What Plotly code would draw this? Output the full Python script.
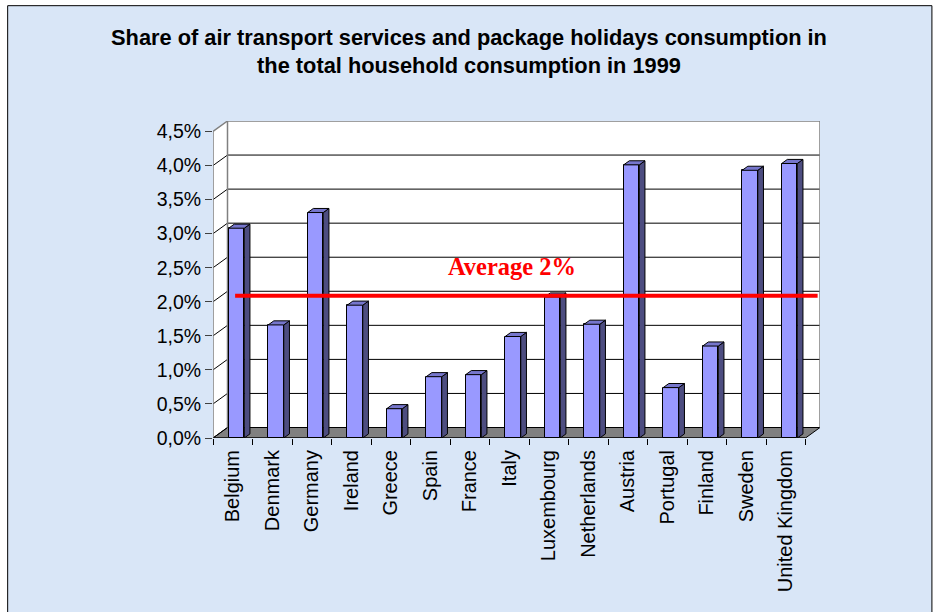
import plotly.graph_objects as go

# ---------------- data ----------------
countries = ["Belgium", "Denmark", "Germany", "Ireland", "Greece", "Spain", "France",
             "Italy", "Luxembourg", "Netherlands", "Austria", "Portugal", "Finland",
             "Sweden", "United Kingdom"]
shares = [3.08, 1.66, 3.31, 1.95, 0.43, 0.90, 0.93, 1.49, 2.07, 1.67, 4.01, 0.74,
          1.35, 3.93, 4.03]
y_ticks = [0.0, 0.5, 1.0, 1.5, 2.0, 2.5, 3.0, 3.5, 4.0, 4.5]
y_tick_labels = ["0,0%", "0,5%", "1,0%", "1,5%", "2,0%", "2,5%", "3,0%", "3,5%", "4,0%", "4,5%"]
average_value = 2.0
average_label = "Average 2%"
title_text = ("Share of air transport services and package holidays consumption in<br>"
              "the total household consumption in 1999")

# ---------------- geometry / style ----------------
W, H = 938, 612
ML, MR, MT, MB = 213, 117.5, 121, 173.5
N = len(countries)
DX = 0.367          # wall depth, category units
DY = 0.154          # wall depth, value units
XMIN = -0.5
XMAX = N - 0.5 + DX
YTOP = y_ticks[-1]
YMAX = YTOP + DY

BOFF = 0.094        # bar front-face shift into depth
BW = 0.395          # bar width
BDX = 0.144         # bar depth (x)
BDY = 0.06          # bar depth (y)

FRONT = "#9999FF"
SIDE = "#4D4D80"
TOP = "#7676CC"
BG = "#D9E6F7"
GREY = "#808080"

FONT = "Liberation Sans, Arial, sans-serif"

dom_w = W - ML - MR
dom_h = H - MT - MB


def px_x(p):
    return (p - ML) / dom_w


def px_y(p):
    return (H - MB - p) / dom_h


shapes = []
# slide background panel with black border
shapes.append(dict(type="rect", xref="paper", yref="paper", layer="below",
                   x0=px_x(7.5), x1=px_x(932.5), y0=px_y(640), y1=px_y(5.5),
                   fillcolor=BG, line=dict(color="black", width=1)))
# side wall
shapes.append(dict(type="path", xref="x", yref="y", layer="below",
                   path=f"M {XMIN},0 L {XMIN+DX},{DY} L {XMIN+DX},{YMAX} L {XMIN},{YTOP} Z",
                   fillcolor="white", line=dict(width=0)))
# back wall
shapes.append(dict(type="rect", xref="x", yref="y", layer="below",
                   x0=XMIN + DX, x1=XMAX, y0=DY, y1=YMAX,
                   fillcolor="white", line=dict(width=0)))
# floor
shapes.append(dict(type="path", xref="x", yref="y", layer="below",
                   path=f"M {XMIN},0 L {N-0.5},0 L {XMAX},{DY} L {XMIN+DX},{DY} Z",
                   fillcolor=GREY, line=dict(color="black", width=1)))
# gridlines (back wall + side wall diagonals)
for v in y_ticks[:-1]:
    shapes.append(dict(type="line", xref="x", yref="y", layer="below",
                       x0=XMIN, y0=v, x1=XMIN + DX, y1=v + DY,
                       line=dict(color="black", width=1)))
    shapes.append(dict(type="line", xref="x", yref="y", layer="below",
                       x0=XMIN + DX, y0=v + DY, x1=XMAX, y1=v + DY,
                       line=dict(color="black", width=1)))
# wall edges (grey)
shapes.append(dict(type="path", xref="x", yref="y", layer="below",
                   path=f"M {XMIN},0 L {XMIN},{YTOP} L {XMIN+DX},{YMAX} L {XMAX},{YMAX} L {XMAX},{DY}",
                   line=dict(color=GREY, width=1.5)))
shapes.append(dict(type="line", xref="x", yref="y", layer="below",
                   x0=XMIN + DX, y0=DY, x1=XMIN + DX, y1=YMAX,
                   line=dict(color=GREY, width=1.5)))
# front floor edge (x axis line)
shapes.append(dict(type="line", xref="x", yref="y", layer="below",
                   x0=XMIN, y0=0, x1=N - 0.5, y1=0,
                   line=dict(color="black", width=1.2)))

# ---------------- traces ----------------
xs = [i + BOFF for i in range(N)]
fig = go.Figure()
fig.add_trace(go.Bar(x=xs, y=shares, width=BW, base=0,
                     marker=dict(color=FRONT, line=dict(color="black", width=1)),
                     hoverinfo="skip", showlegend=False))

side_x, side_y, top_x, top_y = [], [], [], []
for x, v in zip(xs, shares):
    xl, xr = x - BW / 2, x + BW / 2
    side_x += [xr, xr + BDX, xr + BDX, xr, xr, None]
    side_y += [0, BDY, v + BDY, v, 0, None]
    top_x += [xl, xr, xr + BDX, xl + BDX, xl, None]
    top_y += [v, v, v + BDY, v + BDY, v, None]

fig.add_trace(go.Scatter(x=side_x, y=side_y, mode="lines", fill="toself",
                         fillcolor=SIDE, line=dict(color="black", width=1),
                         hoverinfo="skip", showlegend=False))
fig.add_trace(go.Scatter(x=top_x, y=top_y, mode="lines", fill="toself",
                         fillcolor=TOP, line=dict(color="black", width=1),
                         hoverinfo="skip", showlegend=False))

# average line (drawn in front of the bars)
avg_y = average_value + 0.09
fig.add_trace(go.Scatter(x=[XMIN + 0.56, XMAX - 0.06], y=[avg_y, avg_y], mode="lines",
                         line=dict(color="#FF0000", width=4),
                         hoverinfo="skip", showlegend=False))

fig.add_annotation(x=7.08, y=average_value + 0.52, xref="x", yref="y",
                   text=f"<b>{average_label}</b>", showarrow=False,
                   font=dict(family="Liberation Serif, Times New Roman, serif",
                             size=24.5, color="#FF0000"))

# ---------------- layout ----------------
fig.update_layout(
    width=W, height=H, autosize=False,
    margin=dict(l=ML, r=MR, t=MT, b=MB, pad=0),
    paper_bgcolor="white", plot_bgcolor="rgba(0,0,0,0)",
    shapes=shapes, showlegend=False, bargap=0,
    title=dict(text=f"<b>{title_text}</b>", x=0.5, xref="container", xanchor="center",
               y=1 - 45 / H, yref="container", yanchor="middle",
               font=dict(family=FONT, size=21.8, color="black")),
    font=dict(family=FONT, color="black"),
    xaxis=dict(range=[XMIN, XMAX], tickvals=list(range(N)), ticktext=countries,
               tickangle=-90, ticks="outside", ticklen=3, tickcolor="rgba(0,0,0,0)",
               showgrid=False, zeroline=False, showline=False,
               tickfont=dict(family=FONT, size=20, color="black")),
    xaxis2=dict(range=[XMIN, XMAX], overlaying="x", anchor="y", side="bottom",
                tickvals=[k - 0.5 for k in range(N + 1)], showticklabels=False,
                ticks="outside", ticklen=6, tickcolor="black", tickwidth=1,
                showgrid=False, zeroline=False, showline=False),
    yaxis=dict(range=[0, YMAX], tickvals=y_ticks, ticktext=y_tick_labels,
               ticks="outside", ticklen=7, tickcolor="#404040", tickwidth=1,
               showgrid=False, zeroline=False, showline=False,
               tickfont=dict(family=FONT, size=19.5, color="black")),
)
# dummy trace to activate xaxis2
fig.add_trace(go.Scatter(x=[None], y=[None], xaxis="x2", showlegend=False, hoverinfo="skip"))

fig.write_html("out.html", config={"displayModeBar": False},
               post_script="document.body.style.margin='0';document.body.style.overflow='hidden';")
